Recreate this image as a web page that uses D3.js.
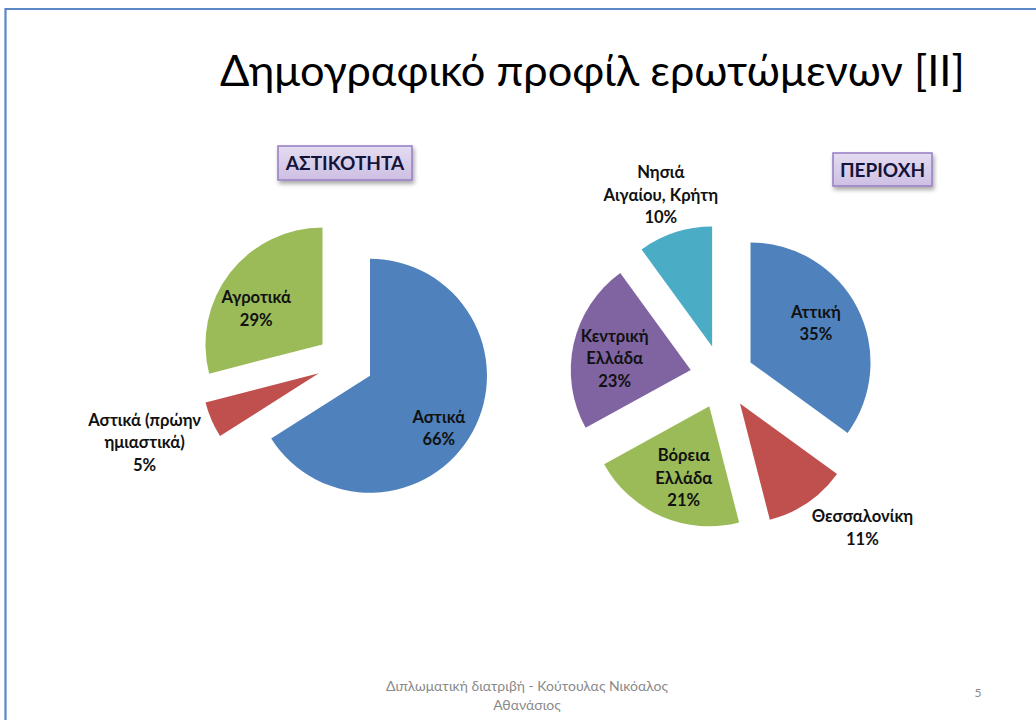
<!DOCTYPE html>
<html>
<head>
<meta charset="utf-8">
<script src="https://cdn.jsdelivr.net/npm/d3@7"></script>
<style>
  html, body { margin: 0; padding: 0; background: #ffffff; }
  svg { display: block; }
</style>
</head>
<body>
<svg id="slide" width="1036" height="720"></svg>
<script>
// ---- Slide content ----
const titleText = "Δημογραφικό προφίλ ερωτώμενων [II]";

const urbanTitle = "ΑΣΤΙΚΟΤΗΤΑ";
const urbanCategories = ["Αστικά", "Αστικά (πρώην\nημιαστικά)", "Αγροτικά"];
const urbanValues = [66, 5, 29];

const regionTitle = "ΠΕΡΙΟΧΗ";
const regionCategories = ["Αττική", "Θεσσαλονίκη", "Βόρεια\nΕλλάδα", "Κεντρική\nΕλλάδα", "Νησιά\nΑιγαίου, Κρήτη"];
const regionValues = [35, 11, 21, 23, 10];

const footerLines = ["Διπλωματική διατριβή - Κούτουλας Νικόαλος", "Αθανάσιος"];
const pageNumber = "5";

// ---- Styling ----
const sliceColors = ["#4f81bd", "#c0504d", "#9bbb59", "#8064a2", "#4bacc6"];
const uiFont = "Lato, 'Open Sans', 'Noto Sans', sans-serif";

const svg = d3.select("#slide");
const W = 1036, H = 720;

// drop shadow for the heading boxes
const defs = svg.append("defs");
const shadow = defs.append("filter").attr("id", "boxShadow")
  .attr("x", "-20%").attr("y", "-30%").attr("width", "140%").attr("height", "180%");
shadow.append("feDropShadow").attr("dx", 1.5).attr("dy", 3).attr("stdDeviation", 2)
  .attr("flood-color", "#000").attr("flood-opacity", 0.35);
const boxGrad = defs.append("linearGradient").attr("id", "boxFill")
  .attr("x1", 0).attr("y1", 0).attr("x2", 0).attr("y2", 1);
boxGrad.append("stop").attr("offset", "0%").attr("stop-color", "#e4dcf1");
boxGrad.append("stop").attr("offset", "100%").attr("stop-color", "#cdbfe3");

// slide frame
svg.append("line").attr("x1", 5).attr("x2", W).attr("y1", 9).attr("y2", 9)
  .attr("stroke", "#5b87c6").attr("stroke-width", 2.2);
svg.append("line").attr("x1", 5.5).attr("x2", 5.5).attr("y1", 8).attr("y2", H)
  .attr("stroke", "#5b87c6").attr("stroke-width", 2.2);

// title, fitted to its span
const title = svg.append("text")
  .attr("x", 220).attr("y", 86)
  .attr("font-family", uiFont).attr("font-size", 42).attr("fill", "#000")
  .text(titleText);
{
  const target = 745;
  const len = title.node().getComputedTextLength();
  title.attr("font-size", 42 * target / len);
}

// heading box with centered caption
function headingBox(x, y, w, h, caption) {
  const g = svg.append("g");
  g.append("rect").attr("x", x).attr("y", y).attr("width", w).attr("height", h)
    .attr("fill", "url(#boxFill)").attr("stroke", "#9a82c6").attr("stroke-width", 1.6)
    .attr("filter", "url(#boxShadow)");
  g.append("text").attr("x", x + w / 2).attr("y", y + h / 2 + 7)
    .attr("text-anchor", "middle")
    .attr("font-family", uiFont).attr("font-weight", 700).attr("font-size", 19)
    .attr("fill", "#14143a").text(caption);
}
headingBox(278, 146, 134, 34, urbanTitle);
headingBox(833, 153, 99, 33, regionTitle);

// exploded pie with data labels
function explodedPie(values, categories, opts) {
  const total = d3.sum(values);
  const arcs = d3.pie().sort(null).value(d => d)(values);
  const arc = d3.arc().innerRadius(0).outerRadius(opts.r);
  const g = svg.append("g").attr("transform", `translate(${opts.cx},${opts.cy})`);

  arcs.forEach((a, i) => {
    const mid = (a.startAngle + a.endAngle) / 2;
    const dir = [Math.sin(mid), -Math.cos(mid)];
    const ox = dir[0] * opts.explode, oy = dir[1] * opts.explode;
    g.append("path")
      .attr("d", arc(a))
      .attr("transform", `translate(${ox},${oy})`)
      .attr("fill", sliceColors[i]);

    const place = opts.labels[i];
    const dist = place.k * opts.r;
    const nudge = place.nudge || [0, 0];
    const lx = ox + dir[0] * dist + nudge[0];
    const ly = oy + dir[1] * dist + nudge[1];
    const lines = categories[i].split("\n").concat([Math.round(values[i] / total * 100) + "%"]);
    const lh = 22.5;
    const t = g.append("text")
      .attr("text-anchor", "middle")
      .attr("font-family", uiFont).attr("font-weight", 700).attr("font-size", 16.6)
      .attr("fill", "#111");
    lines.forEach((s, j) => {
      t.append("tspan").attr("x", lx)
        .attr("y", ly + (j - (lines.length - 1) / 2) * lh + 6)
        .text(s);
    });
  });
}

explodedPie(urbanValues, urbanCategories, {
  cx: 345, cy: 362, r: 117, explode: 28.5,
  labels: [{ k: 0.73, nudge: [-6, 11] }, { k: 1.66, nudge: [4, -8] }, { k: 0.63, nudge: [-8, 9] }]
});

explodedPie(regionValues, regionCategories, {
  cx: 722, cy: 377, r: 120, explode: 32,
  labels: [
    { k: 0.63, nudge: [-2, -5] },
    { k: 1.43, nudge: [26, -18] },
    { k: 0.62, nudge: [4, 3] },
    { k: 0.65, nudge: [0, 5] },
    { k: 1.33, nudge: [-2, 0] }
  ]
});

// footer
const footer = svg.append("text").attr("text-anchor", "middle")
  .attr("font-family", uiFont).attr("font-size", 14).attr("fill", "#8a8a8a");
footerLines.forEach((s, j) => {
  footer.append("tspan").attr("x", 527).attr("y", 691 + j * 19).text(s);
});
svg.append("text").attr("x", 978).attr("y", 697).attr("text-anchor", "middle")
  .attr("font-family", uiFont).attr("font-size", 12).attr("fill", "#8a8a8a")
  .text(pageNumber);
</script>
</body>
</html>
